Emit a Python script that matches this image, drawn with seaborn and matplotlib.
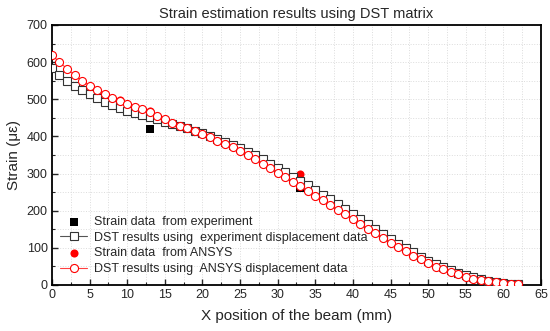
import matplotlib
matplotlib.use("Agg")
import matplotlib.pyplot as plt
import numpy as np
import pandas as pd
import seaborn as sns
from matplotlib.ticker import MultipleLocator

# positions along the beam (mm)
x_pos = list(range(0, 63))

dst_experiment = [
    583, 566, 550, 537, 525, 513, 503, 494, 485, 477,
    469, 463, 457, 452, 446, 440, 434, 428, 422, 415,
    408, 401, 393, 386, 377, 368, 359, 350, 339, 327,
    315, 303, 292, 280, 269, 256, 243, 231, 217, 204,
    190, 177, 163, 150, 136, 123, 110, 99, 88, 76,
    65, 57, 48, 40, 33, 27, 22, 16, 12, 8,
    5, 3, 2,
]

dst_ansys = [
    619, 600, 582, 565, 550, 537, 525, 513, 503, 495,
    487, 479, 473, 467, 455, 446, 437, 429, 422, 415,
    406, 398, 389, 380, 372, 362, 351, 339, 325, 315,
    302, 292, 278, 267, 253, 240, 229, 215, 202, 190,
    177, 163, 151, 140, 126, 112, 101, 91, 79, 69,
    58, 49, 42, 35, 29, 22, 17, 13, 10, 7,
    5, 4, 4,
]

exp_x = [13, 33]
exp_strain = [420, 260]

ansys_x = [9, 13, 33]
ansys_strain = [497, 468, 300]

sns.set_theme(style="ticks")
plt.rcParams["font.family"] = ["Liberation Sans", "DejaVu Sans"]

fig, ax = plt.subplots(figsize=(5.5, 3.31), dpi=100)
fig.subplots_adjust(left=0.0945, right=0.9836, top=0.9245, bottom=0.139)

ax.grid(True, which="both", color="#dcdcdc", linestyle=":", linewidth=0.7)
ax.set_axisbelow(True)

sns.scatterplot(x=exp_x, y=exp_strain, marker="s", color="black", s=26,
                edgecolor="black", linewidth=0, ax=ax, zorder=2,
                label="Strain data  from experiment")
sns.lineplot(x=x_pos, y=dst_experiment, color="#555555", linewidth=0.8,
             marker="s", markersize=5.2, markerfacecolor="white",
             markeredgecolor="#333333", markeredgewidth=0.8, ax=ax, zorder=3,
             label="DST results using  experiment displacement data")
sns.scatterplot(x=ansys_x, y=ansys_strain, marker="o", color="red", s=34,
                edgecolor="red", linewidth=0, ax=ax, zorder=2,
                label="Strain data  from ANSYS")
sns.lineplot(x=x_pos, y=dst_ansys, color="#ff4040", linewidth=0.8,
             marker="o", markersize=5.8, markerfacecolor="white",
             markeredgecolor="red", markeredgewidth=0.8, ax=ax, zorder=4,
             label="DST results using  ANSYS displacement data")

ax.set_xlim(0, 65)
ax.set_ylim(0, 700)
ax.xaxis.set_major_locator(MultipleLocator(5))
ax.xaxis.set_minor_locator(MultipleLocator(2.5))
ax.yaxis.set_major_locator(MultipleLocator(100))
ax.yaxis.set_minor_locator(MultipleLocator(50))
ax.tick_params(which="both", direction="in", top=False, right=False,
               labelsize=9, pad=3)
ax.tick_params(which="major", length=4, width=1)
ax.tick_params(which="minor", length=2, width=0.8)
for sp in ax.spines.values():
    sp.set_visible(True)
    sp.set_linewidth(1.3)
    sp.set_color("black")

ax.set_title("Strain estimation results using DST matrix", fontsize=10.5, pad=5)
ax.set_xlabel("X position of the beam (mm)", fontsize=11, labelpad=6)
ax.set_ylabel("Strain (\u03bc\u03b5)", fontsize=11, labelpad=4)

ax.legend(loc="lower left", bbox_to_anchor=(-0.007, -0.005), frameon=False,
          fontsize=9, handlelength=2.2, handletextpad=0.5, labelspacing=0.3)

fig.savefig("out.png", dpi=100)
